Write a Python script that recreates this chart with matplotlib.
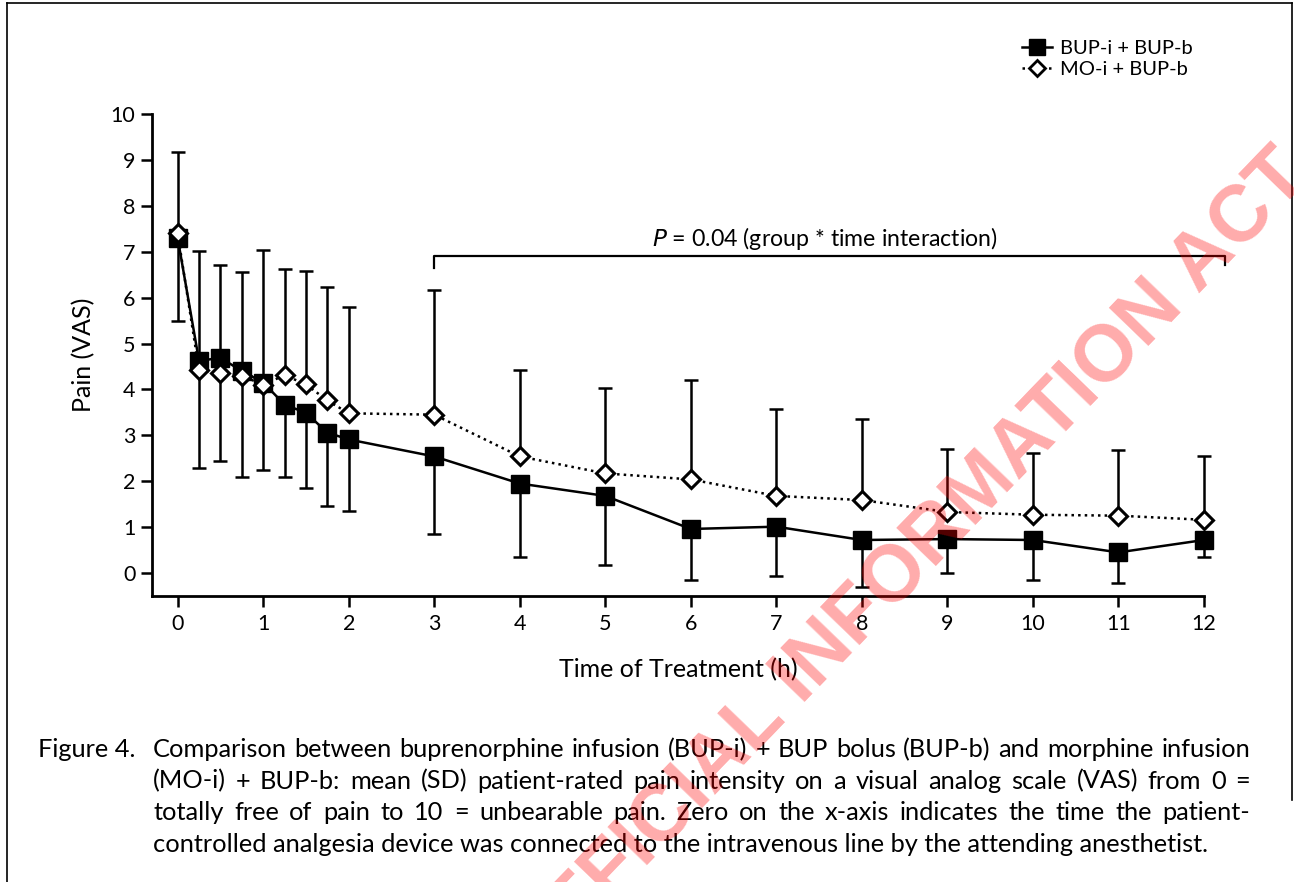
import numpy as np
import matplotlib
matplotlib.use("Agg")
import matplotlib.pyplot as plt
from matplotlib.lines import Line2D

plt.rcParams['font.family'] = ['Lato', 'DejaVu Sans']

# time points (h)
times = [0, 0.25, 0.5, 0.75, 1, 1.25, 1.5, 1.75, 2, 3, 4, 5, 6, 7, 8, 9, 10, 11, 12]
# BUP-i + BUP-b: mean VAS and SD (drawn downward)
bup_mean = [7.30, 4.62, 4.69, 4.40, 4.15, 3.67, 3.49, 3.06, 2.91, 2.54, 1.95, 1.68,
            0.96, 1.01, 0.72, 0.74, 0.72, 0.45, 0.72]
bup_sd = [1.82, 2.34, 2.25, 2.30, 1.90, 1.57, 1.63, 1.61, 1.56, 1.69, 1.61, 1.51,
          1.11, 1.07, 1.02, 0.73, 0.87, 0.67, 0.36]
# MO-i + BUP-b: mean VAS and SD (drawn upward)
mo_mean = [7.40, 4.42, 4.36, 4.30, 4.10, 4.31, 4.11, 3.76, 3.48, 3.45, 2.54, 2.17,
           2.04, 1.68, 1.59, 1.33, 1.27, 1.25, 1.16]
mo_sd = [1.78, 2.60, 2.34, 2.26, 2.94, 2.32, 2.46, 2.47, 2.31, 2.71, 1.88, 1.87,
         2.16, 1.89, 1.77, 1.38, 1.34, 1.43, 1.38]

x_ticks = list(range(0, 13))
y_ticks = list(range(0, 11))
series_labels = ['BUP-i + BUP-b', 'MO-i + BUP-b']

caption_lines = [
    "Comparison between buprenorphine infusion (BUP-i) + BUP bolus (BUP-b) and morphine infusion",
    "(MO-i) + BUP-b: mean (SD) patient-rated pain intensity on a visual analog scale (VAS) from 0 =",
    "totally free of pain to 10 = unbearable pain. Zero on the x-axis indicates the time the patient-",
    "controlled analgesia device was connected to the intravenous line by the attending anesthetist.",
]

fig = plt.figure(figsize=(12.94, 8.82), dpi=100)
W, H = 1294, 882
ax = fig.add_axes([152 / W, 1 - 596 / H, (1204 - 152) / W, (596 - 114) / H])

zeros = np.zeros(len(times))
ax.errorbar(times, bup_mean, yerr=[bup_sd, zeros], fmt='none', ecolor='black',
            elinewidth=1.8, capsize=5, capthick=1.8, zorder=2, clip_on=False)
ax.errorbar(times, mo_mean, yerr=[zeros, mo_sd], fmt='none', ecolor='black',
            elinewidth=1.8, capsize=5, capthick=1.8, zorder=2, clip_on=False)
ax.plot(times, bup_mean, '-', color='black', lw=1.8, marker='s', markersize=13,
        markerfacecolor='black', markeredgecolor='black', zorder=3, clip_on=False)
ax.plot(times, mo_mean, ':', color='black', lw=1.8, marker='D', markersize=9.5,
        markerfacecolor='white', markeredgecolor='black', markeredgewidth=2.2,
        zorder=4, clip_on=False)

ax.set_xlim(-0.3, 12)
ax.set_ylim(-0.5, 10)
ax.set_xticks(x_ticks)
ax.set_yticks(y_ticks)
ax.tick_params(axis='both', direction='out', width=1.8, labelsize=15.5)
ax.tick_params(axis='y', length=8, pad=4)
ax.tick_params(axis='x', length=8, pad=5)
for s in ['top', 'right']:
    ax.spines[s].set_visible(False)
for s in ['left', 'bottom']:
    ax.spines[s].set_linewidth(2)

ax.set_xlabel('Time of Treatment (h)', fontsize=18, labelpad=17)
ax.set_ylabel('Pain (VAS)', fontsize=18, labelpad=11)

# significance bracket
ax.plot([3, 3, 12.25, 12.25], [6.65, 6.9, 6.9, 6.72], color='black', lw=1.6,
        clip_on=False)
ax.text(7.57, 7.0, r'$\it{P}$ = 0.04 (group * time interaction)', ha='center',
        va='bottom', fontsize=16.7)

# legend
handles = [
    Line2D([], [], color='black', lw=1.8, marker='s', markersize=11,
           markerfacecolor='black'),
    Line2D([], [], color='black', lw=1.8, ls=':', marker='D', markersize=8.5,
           markerfacecolor='white', markeredgewidth=2),
]
fig.legend(handles, series_labels, loc='upper left',
           bbox_to_anchor=(1004 / W, 1 - 22 / H), frameon=False, fontsize=14.5,
           handlelength=1.5, handletextpad=0.4, labelspacing=0.2)

# caption, lines 1-3 justified to the right edge
cap_size = 18.3
fig.text(38 / W, 1 - 757 / H, 'Figure 4.', fontsize=cap_size, va='baseline')
renderer = fig.canvas.get_renderer()
left, right = 153, 1250
for i, line in enumerate(caption_lines):
    yb = 1 - (757 + i * 31.7) / H
    if i == len(caption_lines) - 1:
        fig.text(left / W, yb, line, fontsize=cap_size, va='baseline')
        continue
    words = line.split(' ')
    texts = [fig.text(0, yb, w, fontsize=cap_size, va='baseline') for w in words]
    widths = [t.get_window_extent(renderer).width for t in texts]
    gap = (right - left - sum(widths)) / (len(words) - 1)
    xpos = left
    for t, wd in zip(texts, widths):
        t.set_x(xpos / W)
        xpos += wd + gap

# watermark
fig.text(908 / W, 1 - 566 / H, 'OFFICIAL INFORMATION ACT', fontsize=57,
         fontweight='bold', family='Liberation Sans', color='red', alpha=0.33,
         rotation=46, ha='center', va='center', rotation_mode='anchor', zorder=10)

# scanned page frame
fig.add_artist(Line2D([7 / W, 7 / W], [0, 1 - 3 / H], color='black', lw=1.2))
fig.add_artist(Line2D([7 / W, 1292 / W], [1 - 3 / H, 1 - 3 / H], color='black', lw=1.2))
fig.add_artist(Line2D([1292 / W, 1292 / W], [1 - 800 / H, 1 - 3 / H], color='black', lw=1.2))

fig.savefig('out.png', dpi=100)
